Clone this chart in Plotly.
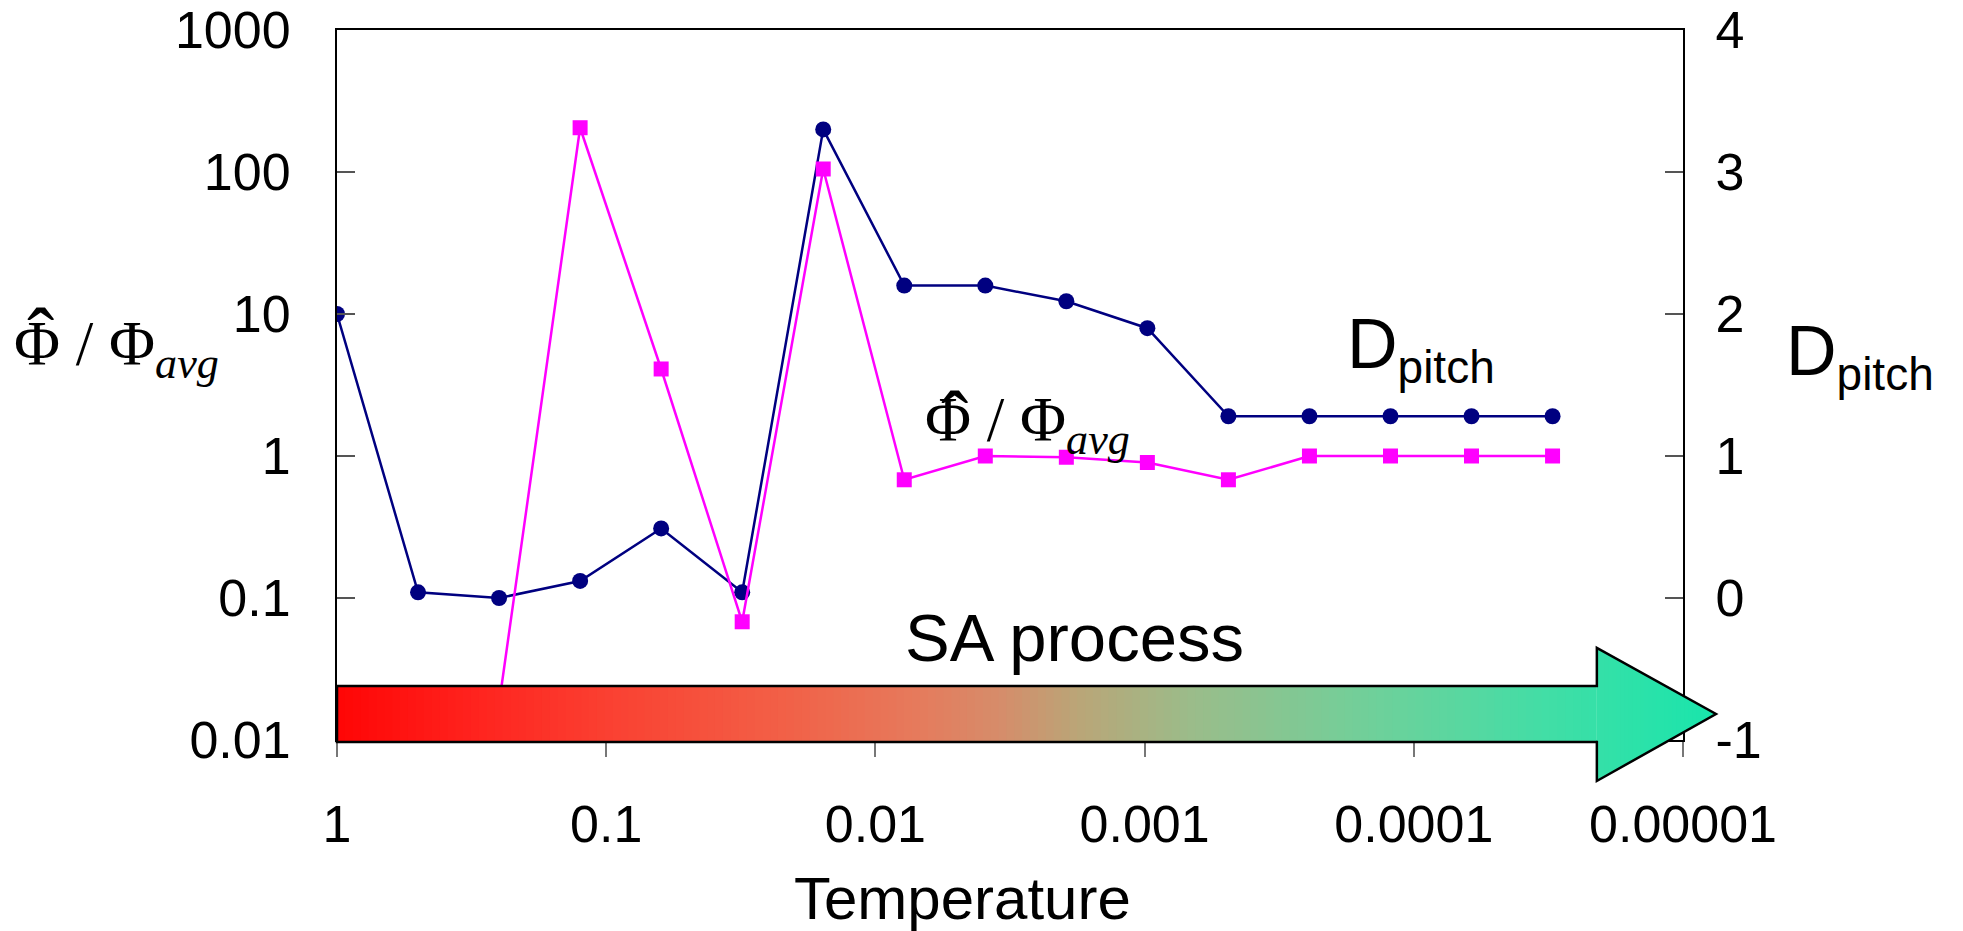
import plotly.graph_objects as go

# ---------------- data ----------------
temperature = [2.0 ** -k for k in range(16)]
d_pitch = [2.0, 0.04, 0.0, 0.12, 0.49, 0.04, 3.3, 2.2, 2.2, 2.09, 1.9, 1.28, 1.28, 1.28, 1.28, 1.28]
phi_ratio = [None, None, 0.018, 205, 4.1, 0.068, 105, 0.68, 1.0, 0.98, 0.9, 0.68, 1.0, 1.0, 1.0, 1.0]

x_tickvals = [1, 0.1, 0.01, 0.001, 0.0001, 0.00001]
x_ticktext = ["1", "0.1", "0.01", "0.001", "0.0001", "0.00001"]
yl_tickvals = [0.01, 0.1, 1, 10, 100, 1000]
yl_ticktext = ["0.01", "0.1", "1", "10", "100", "1000"]
yr_tickvals = [-1, 0, 1, 2, 3, 4]
yr_ticktext = ["-1", "0", "1", "2", "3", "4"]

SANS = "Liberation Sans, Arial, sans-serif"
SERIF = "Liberation Serif, Times New Roman, serif"

fig = go.Figure()

fig.add_trace(go.Scatter(
    x=temperature, y=d_pitch, yaxis="y", mode="lines+markers",
    line=dict(color="#000080", width=2.5),
    marker=dict(symbol="circle", size=16, color="#000080"),
    showlegend=False))

fig.add_trace(go.Scatter(
    x=temperature, y=phi_ratio, yaxis="y2", mode="lines+markers",
    line=dict(color="#FF00FF", width=2.5),
    marker=dict(symbol="square", size=15, color="#FF00FF"),
    showlegend=False, connectgaps=False))

# ---------------- gradient arrow (decoration) ----------------
body_top, body_bot = 0.0761, -0.0028
head_top, head_bot = 0.1296, -0.0577
x_base, x_tip = 0.936, 1.0245
tip_y = (body_top + body_bot) / 2

stops = [
    (0.00, (255, 5, 5)), (0.10, (255, 35, 30)), (0.20, (250, 65, 50)),
    (0.32, (242, 95, 70)), (0.42, (230, 122, 92)), (0.48, (214, 140, 106)),
    (0.54, (185, 166, 120)), (0.62, (155, 188, 138)), (0.75, (112, 208, 154)),
    (0.88, (65, 222, 166)), (1.00, (25, 229, 172)),
]


def grad(t):
    for (t0, c0), (t1, c1) in zip(stops[:-1], stops[1:]):
        if t <= t1:
            f = (t - t0) / (t1 - t0) if t1 > t0 else 0
            return "rgb(%d,%d,%d)" % tuple(round(a + (b - a) * f) for a, b in zip(c0, c1))
    return "rgb(%d,%d,%d)" % stops[-1][1]


def head_edges(x):
    f = (x - x_base) / (x_tip - x_base)
    return head_top + (tip_y - head_top) * f, head_bot + (tip_y - head_bot) * f


shapes = []
n_body, n_head = 160, 30
# body strips
for i in range(n_body):
    xa = x_base * i / n_body
    xb = min(x_base * (i + 1) / n_body + 0.0012, x_base)
    col = grad((xa + xb) / 2 / x_tip)
    shapes.append(dict(
        type="path", xref="paper", yref="paper", layer="above",
        path=f"M {xa},{body_bot} L {xa},{body_top} L {xb},{body_top} L {xb},{body_bot} Z",
        fillcolor=col, line=dict(width=0)))
# head strips
for i in range(n_head):
    xa = x_base + (x_tip - x_base) * i / n_head
    xb = min(x_base + (x_tip - x_base) * (i + 1) / n_head + 0.0012, x_tip)
    ta, ba = head_edges(xa)
    tb, bb = head_edges(xb)
    col = grad((xa + xb) / 2 / x_tip)
    shapes.append(dict(
        type="path", xref="paper", yref="paper", layer="above",
        path=f"M {xa},{ba} L {xa},{ta} L {xb},{tb} L {xb},{bb} Z",
        fillcolor=col, line=dict(width=0)))

shapes.append(dict(
    type="path", xref="paper", yref="paper", layer="above",
    path=(f"M 0,{body_bot} L 0,{body_top} L {x_base},{body_top} L {x_base},{head_top} "
          f"L {x_tip},{tip_y} L {x_base},{head_bot} L {x_base},{body_bot} Z"),
    fillcolor="rgba(0,0,0,0)", line=dict(color="black", width=2.5)))

# ---------------- annotations ----------------
phi_text = "Φ / Φ<sub><i>avg</i></sub>"
dp_text = 'D<sub><span style="font-size:46px">pitch</span></sub>'


def ann(text, x, y, family, size, xanchor="left"):
    return dict(text=text, xref="paper", yref="paper", x=x, y=y,
                xanchor=xanchor, yanchor="middle", showarrow=False,
                font=dict(family=family, size=size, color="black"))


annotations = [
    ann(phi_text, -0.2415, 0.551, SERIF, 63),
    ann("ˆ", -0.2205, 0.5676, SERIF, 82, "center"),
    ann(phi_text, 0.4354, 0.4437, SERIF, 63),
    ann("ˆ", 0.4585, 0.4507, SERIF, 82, "center"),
    ann(dp_text, 1.0748, 0.541, SANS, 70),
    ann(dp_text, 0.7489, 0.551, SANS, 70),
    ann("SA process", 0.548, 0.145, SANS, 67, "center"),
    ann("Temperature", 0.465, -0.223, SANS, 60, "center"),
]

axis_font = dict(family=SANS, size=52, color="black")

fig.update_layout(
    template="none",
    width=1963, height=931,
    margin=dict(l=329, r=288, t=22, b=199, autoexpand=False),
    paper_bgcolor="white", plot_bgcolor="white",
    showlegend=False,
    xaxis=dict(
        type="log", range=[0, -5], showgrid=False, zeroline=False, automargin=False,
        showline=True, linecolor="black", linewidth=2, mirror=True,
        ticks="outside", ticklen=15, tickwidth=2, tickcolor="#777777",
        tickvals=x_tickvals, ticktext=x_ticktext, ticklabelstandoff=23,
        ticklabeloverflow="allow", tickfont=axis_font),
    yaxis=dict(
        range=[-1, 4], side="right", showgrid=False, zeroline=False, automargin=False,
        showline=True, linecolor="black", linewidth=2,
        ticks="inside", ticklen=18, tickwidth=2, tickcolor="#555555",
        tickvals=yr_tickvals, ticktext=yr_ticktext, ticklabelstandoff=20,
        ticklabeloverflow="allow", tickfont=axis_font),
    yaxis2=dict(
        type="log", range=[-2, 3], side="left", overlaying="y",
        showgrid=False, zeroline=False, automargin=False,
        showline=True, linecolor="black", linewidth=2,
        ticks="inside", ticklen=18, tickwidth=2, tickcolor="#555555",
        tickvals=yl_tickvals, ticktext=yl_ticktext, ticklabelstandoff=34,
        ticklabeloverflow="allow", tickfont=axis_font),
    shapes=shapes,
    annotations=annotations,
)

fig.write_html("out.html")
